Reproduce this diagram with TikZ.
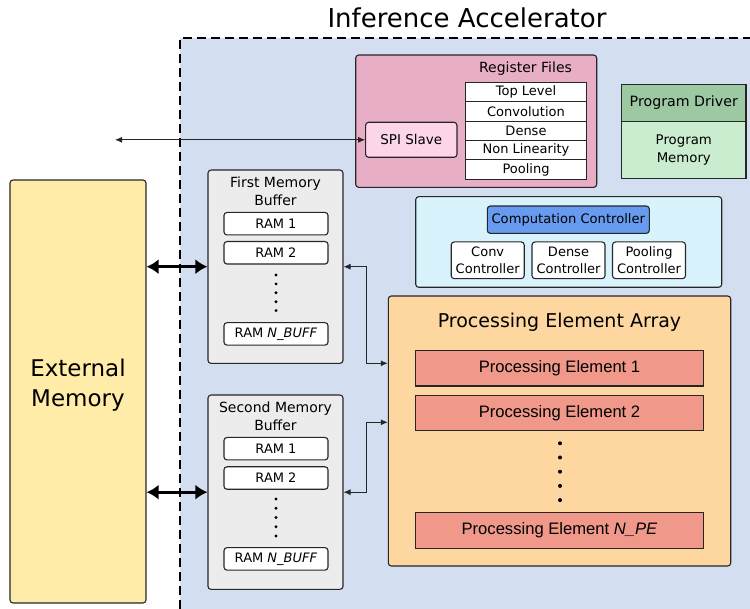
\documentclass[tikz,border=0pt]{standalone}
\usepackage{fontspec}
\setmainfont{DejaVu Sans}
\newfontfamily\arialfont{Liberation Sans}
\usetikzlibrary{arrows.meta, calc}
\definecolor{accelblue}{RGB}{211,223,240}
\definecolor{extyellow}{RGB}{255,236,168}
\definecolor{regpink}{RGB}{232,174,198}
\definecolor{spipink}{RGB}{252,214,232}
\definecolor{drivergreen}{RGB}{156,201,162}
\definecolor{progmint}{RGB}{202,236,207}
\definecolor{compcyan}{RGB}{216,243,252}
\definecolor{ctrlblue}{RGB}{102,155,240}
\definecolor{bufgray}{RGB}{236,236,236}
\definecolor{peaorange}{RGB}{253,214,160}
\definecolor{pesalmon}{RGB}{240,152,138}

\tikzset{
  box/.style={draw=black!85, line width=1.1pt, rounded corners=3pt, inner sep=0pt, align=center},
  ram/.style={box, fill=white, minimum width=104pt, minimum height=22.5pt, font=\fontsize{13}{15}\selectfont},
  reg/.style={draw=black!85, line width=1.1pt, fill=white, inner sep=0pt, minimum width=121pt, minimum height=19.4pt, font=\fontsize{13}{15}\selectfont},
  subctrl/.style={box, fill=white, minimum width=73pt, minimum height=36.7pt, font=\fontsize{13}{16.6}\selectfont},
  pe/.style={draw=black!85, line width=1.1pt, fill=pesalmon, inner sep=0pt, minimum width=287.6pt, minimum height=35.5pt, font=\arialfont\fontsize{16.6}{19}\selectfont},
  buffer/.style={box, fill=bufgray, minimum width=135pt},
  buftitle/.style={font=\fontsize{14}{18}\selectfont, align=center, inner sep=0pt},
  fatlink/.style={line width=2.6pt, {Latex[length=12pt,width=15pt]}-{Latex[length=12pt,width=15pt]}},
  thinlink/.style={line width=0.8pt, black!85, {Latex[length=7pt,width=6pt]}-{Latex[length=7pt,width=6pt]}}
}

\begin{document}
\begin{tikzpicture}[x=1pt, y=-1pt]
  \useasboundingbox (0,0) rectangle (750,609);
  % accelerator region
  \fill[accelblue] (180,38) rectangle (750,609);
  \draw[line width=2.8pt, dash pattern=on 9pt off 5pt] (180,609) -- (180,38) -- (750,38);
  \node[font=\fontsize{26}{30}\selectfont, inner sep=0pt] (title) at (467,18) {Inference Accelerator};

  % external memory
  \node[box, fill=extyellow, minimum width=136pt, minimum height=423pt] (ext) at (78,391.5) {};
  \node[font=\fontsize{23}{30}\selectfont, align=center, inner sep=0pt] (extlabel) at (78,385) {External\\Memory};

  % register files
  \node[box, fill=regpink, minimum width=241pt, minimum height=132.3pt] (regs) at (476.2,121.2) {};
  \node[font=\fontsize{14}{16}\selectfont, inner sep=0pt] (regtitle) at (525.5,69) {Register Files};
  \node[reg] (toplevel) at (526,92) {Top Level};
  \node[reg] (conv) at (526,111.4) {Convolution};
  \node[reg] (dense) at (526,130.8) {Dense};
  \node[reg] (nonlin) at (526,150.2) {Non Linearity};
  \node[reg] (pool) at (526,169.6) {Pooling};
  \node[box, fill=spipink, minimum width=91.3pt, minimum height=35pt, font=\fontsize{13.5}{16}\selectfont] (spi) at (411.3,139.8) {SPI Slave};
  \coordinate (host) at (115,139.8);
  \draw[thinlink] (host) -- (spi.west);

  % program driver
  \node[draw=black!85, line width=1.1pt, fill=drivergreen, inner sep=0pt, minimum width=124.3pt, minimum height=37.4pt, font=\fontsize{14.2}{16}\selectfont] (driver) at (683.8,103) {Program Driver};
  \node[draw=black!85, line width=1.1pt, fill=progmint, inner sep=0pt, minimum width=124.3pt, minimum height=56.6pt, align=center, font=\fontsize{13.3}{17.3}\selectfont] (progmem) at (683.8,150) {Program\\Memory};

  % computation controller
  \node[box, fill=compcyan, minimum width=306pt, minimum height=90.6pt] (comp) at (568.7,242) {};
  \node[box, fill=ctrlblue, minimum width=162pt, minimum height=27.3pt, font=\fontsize{13.1}{15}\selectfont] (compctrl) at (568.3,219.7) {Computation Controller};
  \node[subctrl] (convctrl) at (487.7,260.3) {Conv\\Controller};
  \node[subctrl] (densectrl) at (568.5,260.3) {Dense\\Controller};
  \node[subctrl] (poolctrl) at (649,260.3) {Pooling\\Controller};

  % memory buffers
  \node[buffer, minimum height=193.3pt] (fmb) at (275.5,266.7) {};
  \node[buftitle] (fmbtitle) at (275.5,191) {First Memory\\Buffer};
  \node[ram] (fram1) at (276,223.7) {RAM 1};
  \node[ram] (fram2) at (276,252.8) {RAM 2};
  \node[ram] (framn) at (276,333.9) {RAM \textit{N\_BUFF}};
  \foreach \i in {0,...,4}
    \fill (276,{275+8.9*\i}) circle (1.6pt);

  \node[buffer, minimum height=194.3pt] (smb) at (275.5,492.2) {};
  \node[buftitle] (smbtitle) at (275.5,416) {Second Memory\\Buffer};
  \node[ram] (sram1) at (276,448.7) {RAM 1};
  \node[ram] (sram2) at (276,478) {RAM 2};
  \node[ram] (sramn) at (276,558.9) {RAM \textit{N\_BUFF}};
  \foreach \i in {0,...,4}
    \fill (276,{499+9.25*\i}) circle (1.6pt);

  % processing element array
  \node[box, fill=peaorange, minimum width=342.4pt, minimum height=270pt] (pea) at (559.5,431) {};
  \node[font=\fontsize{19}{22}\selectfont, inner sep=0pt] (peatitle) at (559.5,322) {Processing Element Array};
  \node[pe] (pe1) at (559.5,368.3) {Processing Element 1};
  \node[pe] (pe2) at (559.5,413.2) {Processing Element 2};
  \node[pe] (pen) at (559.5,530.3) {Processing Element \textit{N\_PE}};
  \foreach \i in {0,...,4}
    \fill (560,{443.3+14.2*\i}) circle (2pt);

  % links
  \draw[fatlink] (ext.east |- fmb.west) -- (fmb.west);
  \draw[fatlink] (ext.east |- smb.west) -- (smb.west);
  \coordinate (bend1) at (366.7,363.3);
  \coordinate (bend2) at (366.7,422.3);
  \draw[thinlink, rounded corners=0pt] (fmb.east) -| (bend1) -- (bend1 -| pea.west);
  \draw[thinlink, rounded corners=0pt] (smb.east) -| (bend2) -- (bend2 -| pea.west);
\end{tikzpicture}
\end{document}
